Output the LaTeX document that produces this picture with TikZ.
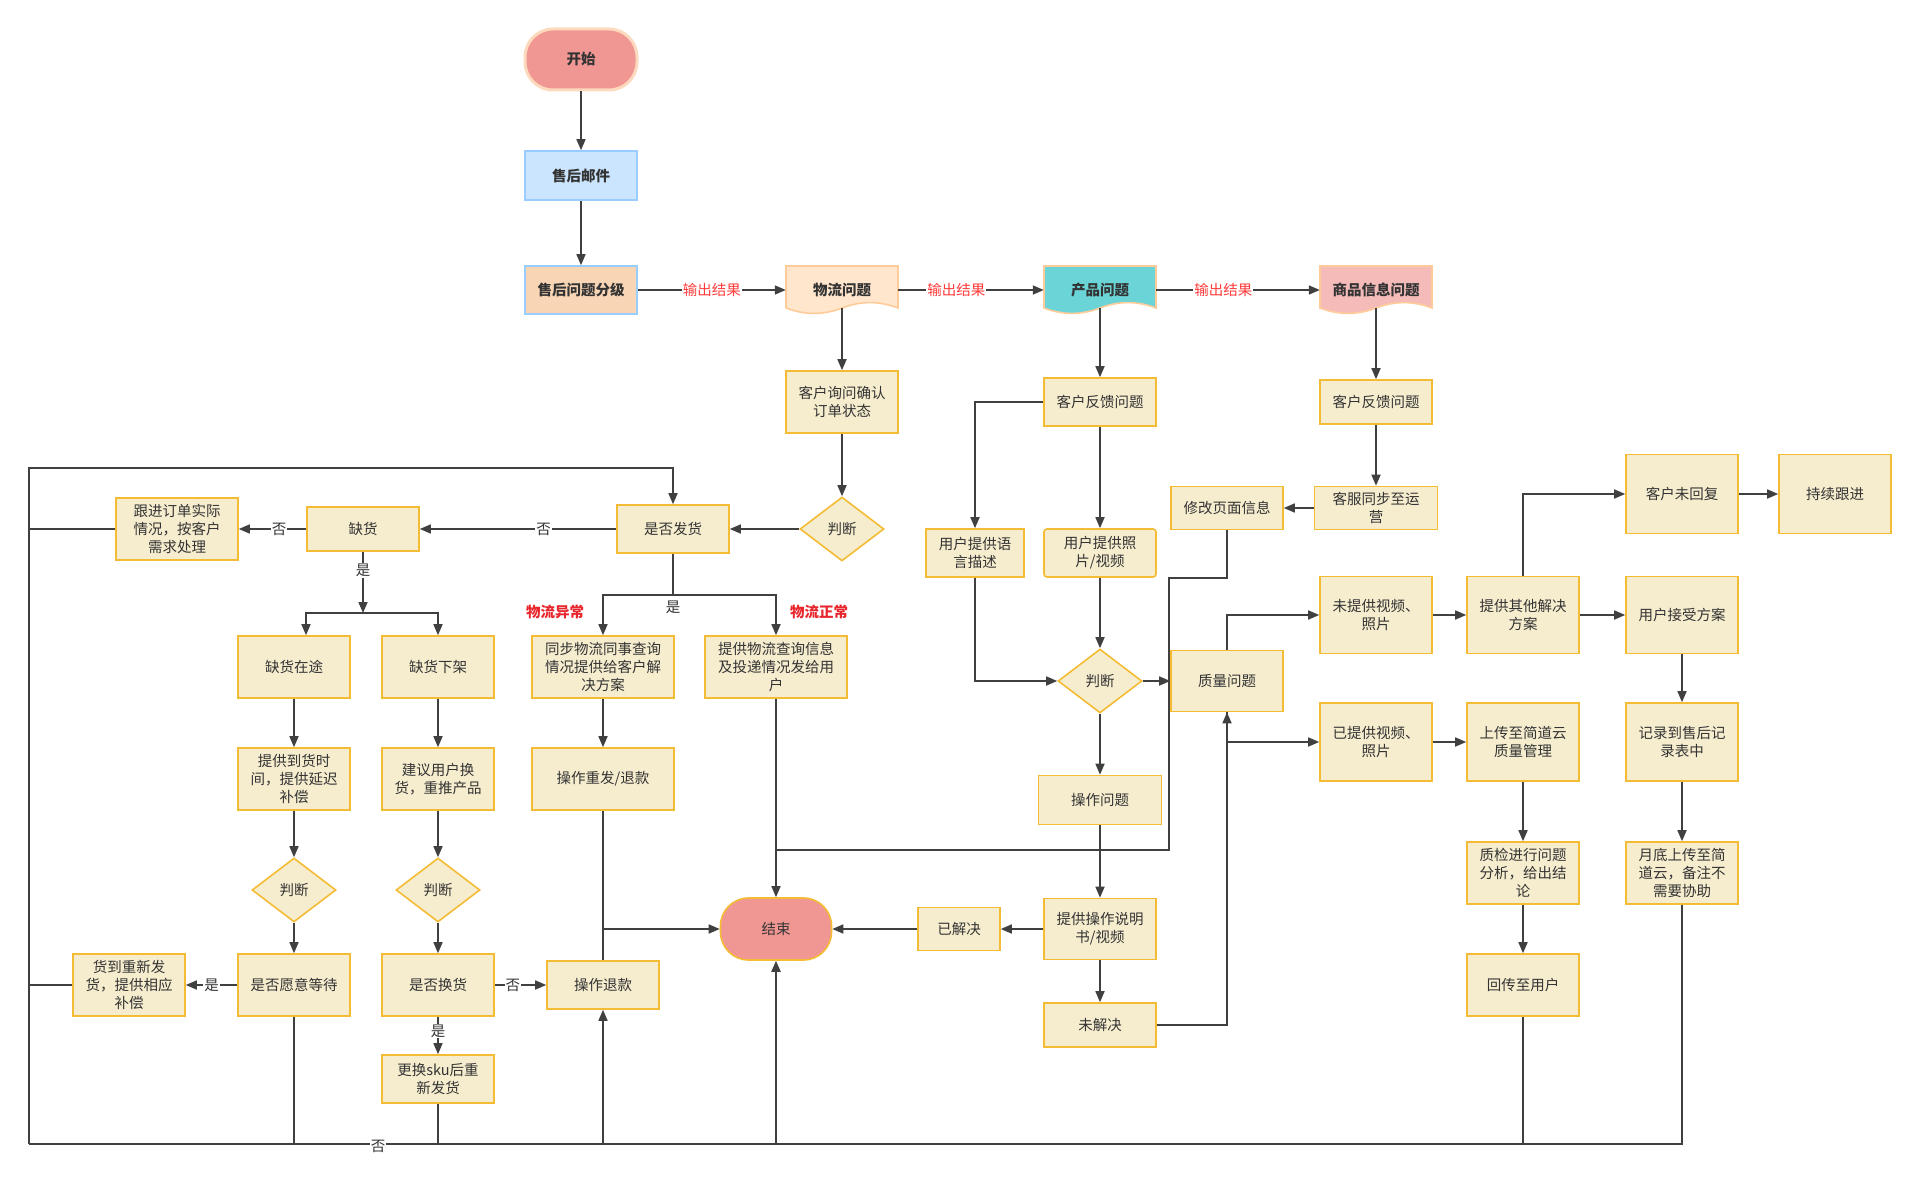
\documentclass[tikz,border=0pt]{standalone}
\usepackage{fontspec}
\setmainfont{Noto Sans CJK SC}
\usetikzlibrary{shapes.geometric,arrows.meta,calc}
\definecolor{boxfill}{HTML}{F6EDCF}
\definecolor{boxline}{HTML}{F4BC35}
\definecolor{linec}{HTML}{404040}
\definecolor{txt}{HTML}{333333}
\definecolor{startfill}{HTML}{F19793}
\definecolor{startline}{HTML}{FDD9BD}
\definecolor{mailfill}{HTML}{CCE5FF}
\definecolor{mailline}{HTML}{99CCFF}
\definecolor{gradefill}{HTML}{F8D5B5}
\definecolor{wlfill}{HTML}{FFE6CC}
\definecolor{docline}{HTML}{FFCC99}
\definecolor{cpfill}{HTML}{6BD4D6}
\definecolor{spfill}{HTML}{F4BBB9}
\definecolor{redlbl}{HTML}{FF3B3B}
\definecolor{boldred}{HTML}{E8262D}
\newcommand\fs{\fontsize{14.5}{18}\selectfont}
\newcommand\docshape[4]{%
 \path[fill=#3, draw=#4, line width=1.6pt] ({#1-56},{#2-24}) -- ({#1+56},{#2-24}) -- ({#1+56},{#2+18})
 .. controls ({#1+37.33},{#2+10.8}) and ({#1+18.67},{#2+10.8}) .. ({#1},{#2+18})
 .. controls ({#1-18.67},{#2+25.2}) and ({#1-37.33},{#2+25.2}) .. ({#1-56},{#2+18}) -- cycle;}
\tikzset{
 box/.style={rectangle, draw=boxline, fill=boxfill, line width=1.6pt, minimum width=112pt, minimum height=62pt, inner sep=2pt, align=center, text=txt, font=\fs},
 dia/.style={diamond, aspect=1.32, draw=boxline, fill=boxfill, line width=1.6pt, minimum width=84pt, minimum height=64pt, inner sep=0pt, text=txt, font=\fs},
 term/.style={rectangle, rounded corners=28pt, fill=startfill, minimum width=112pt, minimum height=61pt, text=txt, font=\fs},
 doctext/.style={rectangle, minimum width=112pt, minimum height=48pt, inner sep=0pt, text=txt, font=\fs\bfseries},
 conn/.style={draw=linec, line width=1.6pt},
 arr/.style={conn, -{Triangle[length=11pt,width=9pt]}},
 lbl/.style={fill=white, inner sep=1pt, text=txt, font=\fs},
 olbl/.style={fill=white, inner sep=1pt, text=redlbl, font=\fs},
 rlbl/.style={inner sep=1pt, text=boldred, font=\fs\bfseries},
}
\begin{document}
\begin{tikzpicture}[x=1pt,y=-1pt]
\useasboundingbox (0,0) rectangle (1920,1182);
\path[fill=white] (0,0) rectangle (1920,1182);
% top
\node[term, draw=startline, line width=3pt] (start) at (581,59.5) {\bfseries 开始};
\node[box, fill=mailfill, draw=mailline, minimum height=49pt, font=\fs\bfseries] (mail) at (581,175.5) {售后邮件};
\node[box, fill=gradefill, draw=mailline, minimum height=48pt, font=\fs\bfseries] (grade) at (581,290) {售后问题分级};
\docshape{842}{290}{wlfill}{docline}
\node[doctext] (wl) at (842,290) {物流问题};
\docshape{1100}{290}{cpfill}{docline}
\node[doctext] (cp) at (1100,290) {产品问题};
\docshape{1376}{290}{spfill}{docline}
\node[doctext] (sp) at (1376,290) {商品信息问题};
% logistics
\node[box] (ask) at (842,402) {客户询问确认\\订单状态};
\node[dia] (pd1) at (842,529) {判断};
\node[box, minimum height=48pt] (fh) at (673,529) {是否发货};
\node[box, minimum height=44pt] (qh) at (363,529) {缺货};
\node[box, minimum width=122pt] (gj) at (177,529) {跟进订单实际\\情况，按客户\\需求处理};
\node[box] (qzt) at (294,667) {缺货在途};
\node[box] (qxj) at (438,667) {缺货下架};
\node[box, minimum width=142pt] (tb) at (603,667) {同步物流同事查询\\情况提供给客户解\\决方案};
\node[box, minimum width=142pt] (tg) at (776,667) {提供物流查询信息\\及投递情况发给用\\户};
\node[box] (dh) at (294,779) {提供到货时\\间，提供延迟\\补偿};
\node[box] (jy) at (438,779) {建议用户换\\货，重推产品};
\node[box, minimum width=142pt] (cz) at (603,779) {操作重发/退款};
\node[dia] (pd2) at (294,890) {判断};
\node[dia] (pd3) at (438,890) {判断};
\node[box] (dd) at (294,985) {是否愿意等待};
\node[box] (hh) at (438,985) {是否换货};
\node[box] (hd) at (129,985) {货到重新发\\货，提供相应\\补偿};
\node[box, minimum height=48pt] (tk) at (603,985) {操作退款};
\node[box, minimum height=48pt] (sku) at (438,1079) {更换sku后重\\新发货};
\node[term, draw=boxline, line width=1.6pt, minimum width=111pt, minimum height=62pt] (end) at (776,929) {结束};
% product
\node[box, minimum height=48pt] (fk1) at (1100,402) {客户反馈问题};
\node[box, minimum width=98pt, minimum height=48pt] (yy) at (975,553) {用户提供语\\言描述};
\node[box, minimum height=48pt, rounded corners=3pt] (zp) at (1100,553) {用户提供照\\片/视频};
\node[dia] (pd4) at (1100,681) {判断};
\node[box, minimum height=61pt] (zl) at (1227,681) {质量问题};
\node[box, minimum width=123pt, minimum height=49pt] (czwt) at (1100,800) {操作问题};
\node[box, minimum height=61pt] (sms) at (1100,929) {提供操作说明\\书/视频};
\node[box, minimum width=82pt, minimum height=43pt] (yj) at (959,929) {已解决};
\node[box, minimum height=44pt] (wj) at (1100,1025) {未解决};
\node[box, minimum height=77pt] (wtg) at (1376,615) {未提供视频、\\照片};
\node[box, minimum height=77pt] (qt) at (1523,615) {提供其他解决\\方案};
\node[box, minimum height=77pt] (js) at (1682,615) {用户接受方案};
\node[box, minimum height=78pt] (ytg) at (1376,742) {已提供视频、\\照片};
\node[box, minimum height=78pt] (sc) at (1523,742) {上传至简道云\\质量管理};
\node[box, minimum height=78pt] (jl) at (1682,742) {记录到售后记\\录表中};
\node[box] (zj) at (1523,873) {质检进行问题\\分析，给出结\\论};
\node[box] (yd) at (1682,873) {月底上传至简\\道云，备注不\\需要协助};
\node[box] (hc) at (1523,985) {回传至用户};
\node[box, minimum height=79pt] (wh) at (1682,494) {客户未回复};
\node[box, minimum height=79pt] (cx) at (1835,494) {持续跟进};
% info
\node[box, minimum height=44pt] (fk2) at (1376,402) {客户反馈问题};
\node[box, minimum width=123pt, minimum height=43pt] (kf) at (1376,508) {客服同步至运\\营};
\node[box, minimum height=43pt] (xg) at (1227,508) {修改页面信息};
% coordinates
\coordinate (LT) at (29,468);
\coordinate (LB) at (29,1144);
\coordinate (T) at (363,613);
\coordinate (F) at (673,595);
\coordinate (X1) at (1227,578);
\coordinate (X2) at (1169,578);
\coordinate (X3) at (1169,850);
\coordinate (X4) at (776,850);
% top edges
\draw[arr] (start) -- (mail);
\draw[arr] (mail) -- (grade);
\draw[arr] (grade) -- (wl) node[olbl,pos=0.5] (o1) {输出结果};
\draw[arr] (wl) -- (cp) node[olbl,pos=0.4] (o2) {输出结果};
\draw[arr] (cp) -- (sp) node[olbl,pos=0.41] (o3) {输出结果};
\draw[arr, shorten <=-6pt] (wl) -- (ask);
\draw[arr, shorten <=-6pt] (cp) -- (fk1);
\draw[arr, shorten <=-6pt] (sp) -- (fk2);
% logistics edges
\draw[arr] (ask) -- (pd1);
\draw[arr] (pd1) -- (fh);
\draw[arr] (fh) -- (qh) node[lbl,pos=0.37] (n1) {否};
\draw[arr] (qh) -- (gj) node[lbl,pos=0.4] (n2) {否};
\draw[conn] (gj.west) -- (gj.west -| LT);
\draw[conn] (hd.west) -- (hd.west -| LT);
\draw[arr] (LB) -- (LT) -| (fh.north);
\draw[arr] (qh) -- (T) node[lbl,pos=0.3] (y1) {是};
\draw[arr] (T) -| ([xshift=12pt]qzt.north);
\draw[arr] (T) -| (qxj.north);
\draw[conn] (fh) -- (F);
\draw[arr] (F) -| (tb.north);
\draw[arr] (F) -| (tg.north);
\node[lbl] (y2) at (673,607) {是};
\node[rlbl] (yc) at (555,612) {物流异常};
\node[rlbl] (zc) at (819,612) {物流正常};
\draw[arr] (qzt) -- (dh);
\draw[arr] (dh) -- (pd2);
\draw[arr] (pd2) -- (dd);
\draw[arr] (dd) -- (hd) node[lbl,pos=0.5] (y3) {是};
\draw[arr] (qxj) -- (jy);
\draw[arr] (jy) -- (pd3);
\draw[arr] (pd3) -- (hh);
\draw[arr] (hh) -- (tk) node[lbl,pos=0.35] (n3) {否};
\draw[arr] (hh) -- (sku) node[lbl,pos=0.38] (y4) {是};
\draw[arr] (tb) -- (cz);
\draw[arr] (cz.south) |- (end.west);
\draw[conn] (tk.north) -- (tk.north |- end.west);
\draw[arr] (tg) -- (end);
\draw[arr] (dd.south) -- (dd.south |- LB) -- (tk.south |- LB) -- (tk.south);
\draw[conn] (dd.south |- LB) -- (LB);
\draw[conn] (sku.south) -- (sku.south |- LB);
\draw[conn] (tk.south |- LB) -- (end.south |- LB);
\node[lbl] (n4) at (378,1146) {否};
% product edges
\draw[arr] (fk1.west) -| (yy.north);
\draw[arr] (fk1) -- (zp);
\draw[arr] (yy.south) |- (pd4.west);
\draw[arr] (zp) -- (pd4);
\draw[arr] (pd4) -- (zl);
\draw[arr] (pd4) -- (czwt);
\draw[arr] (czwt) -- (sms);
\draw[arr] (sms) -- (yj);
\draw[arr] (yj) -- (end);
\draw[arr] (sms) -- (wj);
\draw[arr] (wj.east) -| (zl.south);
\draw[arr] (zl.south) |- (ytg.west);
\draw[arr] (zl.north) |- (wtg.west);
\draw[arr] (wtg) -- (qt);
\draw[arr] (qt) -- (js);
\draw[arr] (qt.north) |- (wh.west);
\draw[arr] (wh) -- (cx);
\draw[arr] (js) -- (jl);
\draw[arr] (jl) -- (yd);
\draw[arr] (ytg) -- (sc);
\draw[arr] (sc) -- (zj);
\draw[arr] (zj) -- (hc);
\draw[arr, line width=2.2pt] (yd.south) -- (yd.south |- LB) -- (end.south |- LB) -- (end.south);
\draw[conn] (hc.south) -- (hc.south |- LB);
% info edges
\draw[arr] (fk2) -- (kf);
\draw[arr] (kf) -- (xg);
\draw[conn] (xg.south) -- (X1) -- (X2) -- (X3) -- (X4);
\end{tikzpicture}
\end{document}
